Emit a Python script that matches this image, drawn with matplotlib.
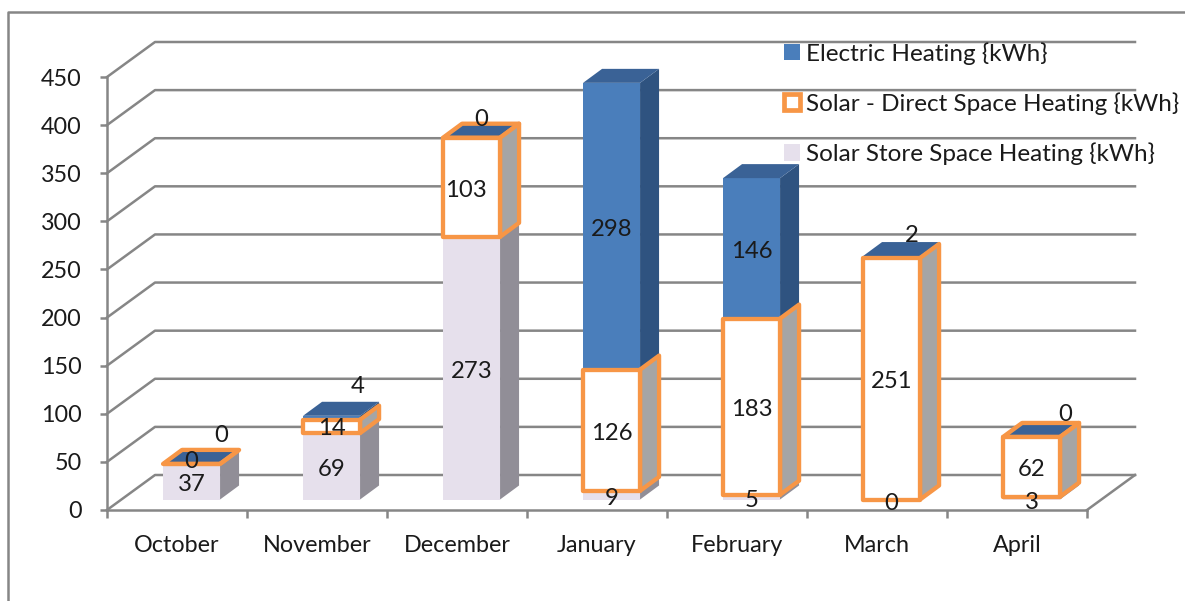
import matplotlib
matplotlib.use("Agg")
import matplotlib.pyplot as plt
from matplotlib.patches import Polygon, Patch
from matplotlib.lines import Line2D

months = ["October", "November", "December", "January", "February", "March", "April"]
store = [37, 69, 273, 9, 5, 0, 3]
direct = [0, 14, 103, 126, 183, 251, 62]
electric = [0, 4, 0, 298, 146, 2, 0]
series_names = ["Electric Heating {kWh}", "Solar - Direct Space Heating {kWh}", "Solar Store Space Heating {kWh}"]
y_ticks = [0, 50, 100, 150, 200, 250, 300, 350, 400, 450]

# label nudges in pixels (dx, dy up), same order as the months
store_nudge = [(0, -3), (0, -3), (0, -3), (0, -3), (0, -3), (0, -4), (0, -4)]
direct_nudge = [(0, 2), (0, -2), (-6, -3), (0, -3), (0, -3), (0, -3), (0, -3)]
electric_nudge = [(30, 28), (26, 31), (10, 18), (0, -3), (0, -3), (20, 22), (34, 22)]

W, H = 1185, 601
plt.rcParams["font.family"] = ["Lato", "DejaVu Sans"]
FS = 16.8
FS_LABEL = 17.2
FS_LEG = 17.5
TXT = "#1a1a1a"
GRID = "#868686"
ORANGE = "#F79646"
EDGE = 3.1
fig = plt.figure(figsize=(W / 100, H / 100), dpi=100)
L, R, T, B = 107, 1087, 77, 510
ax = fig.add_axes([L / W, 1 - B / H, (R - L) / W, (B - T) / H])
ax.set_xlim(0, 7)
ax.set_ylim(0, 450)
ax.patch.set_alpha(0)

PX = 7 / (R - L)
PY = 450 / (B - T)
wall_dx, wall_dy = 48 * PX, 35 * PY
bar_dx, bar_dy = 19 * PX, 14 * PY
base = 10.5 * PY
bar_w = 57 * PX
bar_off = 0.604

# walls
for v in y_ticks:
    ax.plot([0, wall_dx, 7 + wall_dx], [v, v + wall_dy, v + wall_dy], color=GRID, lw=1.8, clip_on=False, zorder=1)
ax.plot([7, 7 + wall_dx], [0, wall_dy], color=GRID, lw=1.8, clip_on=False, zorder=1)


def side(x, y0, y1, **kw):
    r = x + bar_w / 2
    ax.add_patch(Polygon([(r, y0), (r + bar_dx, y0 + bar_dy), (r + bar_dx, y1 + bar_dy), (r, y1)],
                         closed=True, clip_on=False, **kw))


def top(x, y, **kw):
    l, r = x - bar_w / 2, x + bar_w / 2
    ax.add_patch(Polygon([(l, y), (r, y), (r + bar_dx, y + bar_dy), (l + bar_dx, y + bar_dy)],
                         closed=True, clip_on=False, **kw))


for i in range(len(months)):
    x = i + bar_off
    s0 = base
    d0 = s0 + store[i]
    e0 = d0 + direct[i]
    e1 = e0 + electric[i]
    z = 3 + i
    if store[i] > 0:
        side(x, s0, d0, facecolor="#918E97", edgecolor="none", zorder=z)
        ax.bar(x, store[i], bottom=s0, width=bar_w, color="#E6E0EC", zorder=z, clip_on=False)
    if electric[i] > 0:
        side(x, e0, e1, facecolor="#2F5380", edgecolor="none", zorder=z)
        ax.bar(x, electric[i], bottom=e0, width=bar_w, color="#4A7EBB", zorder=z, clip_on=False)
        top(x, e1, facecolor="#3A6296", edgecolor="none", zorder=z)
    else:
        top(x, e0, facecolor="#3A6296", edgecolor=ORANGE, lw=EDGE, joinstyle="round", zorder=z)
    side(x, d0, e0, facecolor="#A5A5A5", edgecolor=ORANGE, lw=EDGE, joinstyle="round", zorder=z)
    ax.bar(x, direct[i], bottom=d0, width=bar_w, facecolor="white" if direct[i] else "none",
           edgecolor=ORANGE, lw=EDGE, joinstyle="round", zorder=z, clip_on=False)

# labels
for vals, bottoms, nudges in [
    (store, [base] * 7, store_nudge),
    (direct, [base + a for a in store], direct_nudge),
    (electric, [base + a + b for a, b in zip(store, direct)], electric_nudge),
]:
    for i, v in enumerate(vals):
        ax.annotate(str(v), (i + bar_off, bottoms[i] + v / 2), xytext=nudges[i], textcoords="offset pixels",
                    ha="center", va="center", fontsize=FS_LABEL, color=TXT, zorder=30, annotation_clip=False)

# axes
for s in ("top", "right"):
    ax.spines[s].set_visible(False)
for s in ("left", "bottom"):
    ax.spines[s].set_color(GRID)
    ax.spines[s].set_linewidth(1.8)
ax.set_yticks(y_ticks)
ax.set_xticks(range(8))
ax.set_xticklabels([])
ax.set_xticks([i + 0.5 for i in range(7)], months, minor=True)
ax.tick_params(axis="y", length=5, width=1.8, color=GRID, labelsize=FS, labelcolor=TXT, pad=13)
ax.tick_params(axis="x", which="major", length=6, width=1.8, color=GRID)
ax.tick_params(axis="x", which="minor", length=0, labelsize=FS, labelcolor=TXT, pad=18)

# legend
handles = [
    Patch(facecolor="#4A7EBB", edgecolor="none"),
    Patch(facecolor="white", edgecolor=ORANGE, lw=3.4),
    Patch(facecolor="#E6E0EC", edgecolor="none"),
]
leg = ax.legend(handles, series_names, loc="upper left", bbox_to_anchor=(784 / W, 1 - 42 / H),
                bbox_transform=fig.transFigure, frameon=False, fontsize=FS_LEG, labelspacing=1.135,
                handlelength=0.66, handleheight=0.66, handletextpad=0.25, borderpad=0, borderaxespad=0,
                labelcolor=TXT)
leg.set_zorder(40)

# outer frame
fig.add_artist(Line2D([8 / W, 8 / W, 1], [0, 1 - 12 / H, 1 - 12 / H], color=GRID, lw=1.8))

fig.savefig("out.png", dpi=100)
